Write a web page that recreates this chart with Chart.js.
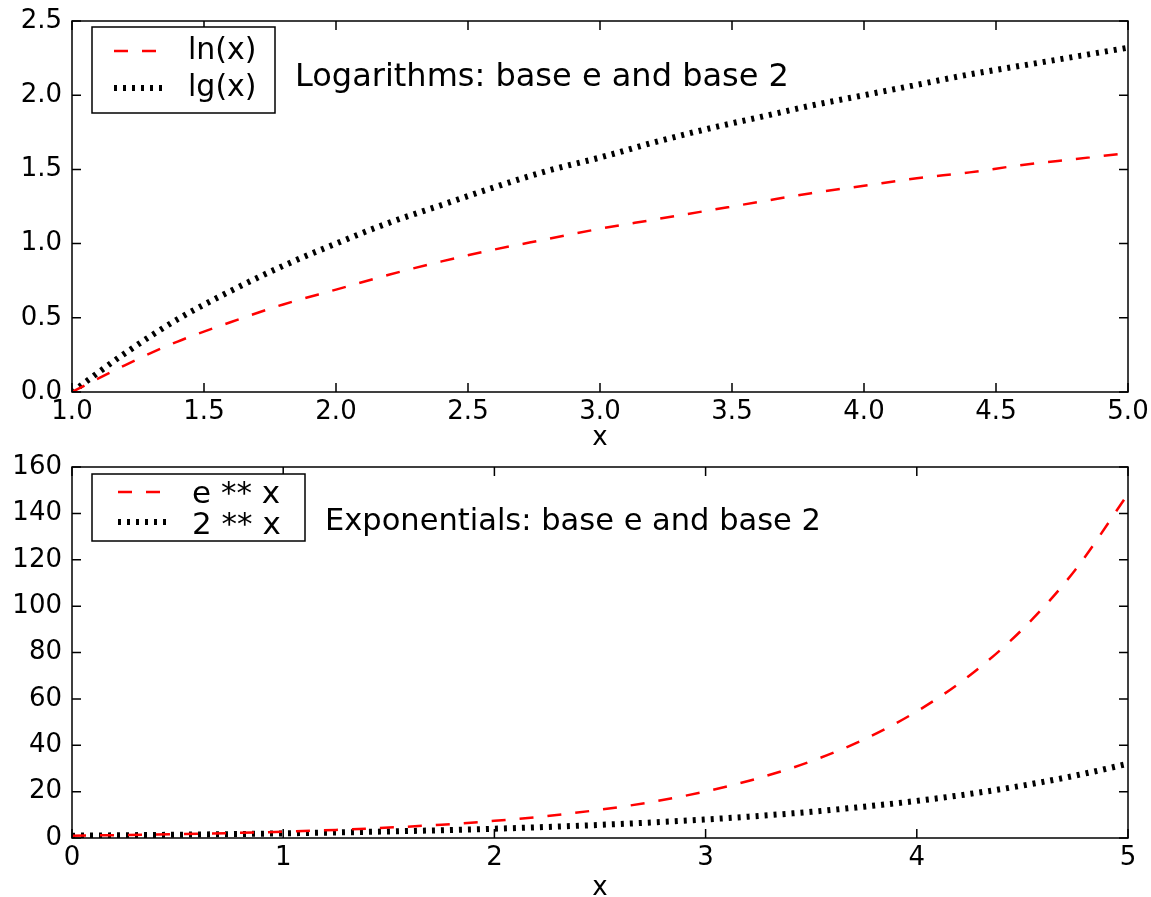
<!DOCTYPE html>
<html>
<head>
<meta charset="utf-8">
<script src="https://cdn.jsdelivr.net/npm/chart.js@4.4.1/dist/chart.umd.min.js"></script>
<style>
html, body { margin: 0; padding: 0; background: #fff; overflow: hidden; }
#wrap { position: relative; width: 1151px; height: 897px; overflow: hidden; }
canvas { position: absolute; left: 0; }
#logChart { top: 0; }
#expChart { top: 447px; }
</style>
</head>
<body>
<div id="wrap">
  <canvas id="logChart" width="1151" height="460"></canvas>
  <canvas id="expChart" width="1151" height="460"></canvas>
</div>
<script>
// values

// top panel: logarithms
const logX = [1.0, 1.2, 1.4, 1.6, 1.8, 2.0, 2.2, 2.4, 2.6, 2.8, 3.0, 3.2, 3.4, 3.6, 3.8, 4.0, 4.2, 4.4, 4.6, 4.8, 5.0]
const lnY = [0, 0.18, 0.34, 0.47, 0.59, 0.69, 0.79, 0.88, 0.96, 1.03, 1.10, 1.16, 1.22, 1.28, 1.34, 1.39, 1.44, 1.48, 1.53, 1.57, 1.61]
const lgY = [0, 0.26, 0.49, 0.68, 0.85, 1.00, 1.14, 1.26, 1.38, 1.49, 1.58, 1.68, 1.77, 1.85, 1.93, 2.00, 2.07, 2.14, 2.20, 2.26, 2.32]
const logXTicks = [1.0, 1.5, 2.0, 2.5, 3.0, 3.5, 4.0, 4.5, 5.0]
const logYTicks = [0.0, 0.5, 1.0, 1.5, 2.0, 2.5]

// bottom panel: exponentials
const expX = [0, 0.25, 0.5, 0.75, 1.0, 1.25, 1.5, 1.75, 2.0, 2.25, 2.5, 2.75, 3.0, 3.25, 3.5, 3.75, 4.0, 4.25, 4.5, 4.75, 5.0]
const eY = [1.0, 1.28, 1.65, 2.12, 2.72, 3.49, 4.48, 5.75, 7.39, 9.49, 12.2, 15.6, 20.1, 25.8, 33.1, 42.5, 54.6, 70.1, 90.0, 115.6, 148.4]
const twoY = [1.0, 1.19, 1.41, 1.68, 2.0, 2.38, 2.83, 3.36, 4.0, 4.76, 5.66, 6.73, 8.0, 9.51, 11.3, 13.5, 16.0, 19.0, 22.6, 26.9, 32.0]
const expXTicks = [0, 1, 2, 3, 4, 5]
const expYTicks = [0, 20, 40, 60, 80, 100, 120, 140, 160]

Chart.defaults.font.family = "'DejaVu Sans', sans-serif"
Chart.defaults.color = "#000"

const tickFont = { size: 26 }

// box round the plot, inward ticks, legend and the text note
const frame = {
    id: "frame",
    afterDatasetsDraw(chart, args, opts) {
        const ctx = chart.ctx
        const a = chart.chartArea
        const xs = chart.scales.x
        const ys = chart.scales.y
        ctx.save()
        ctx.strokeStyle = "#000"
        ctx.lineWidth = 1.5
        ctx.beginPath()
        xs.ticks.forEach(t => {
            const p = xs.getPixelForValue(t.value)
            ctx.moveTo(p, a.bottom); ctx.lineTo(p, a.bottom - 9)
            ctx.moveTo(p, a.top); ctx.lineTo(p, a.top + 9)
        })
        ys.ticks.forEach(t => {
            const p = ys.getPixelForValue(t.value)
            ctx.moveTo(a.left, p); ctx.lineTo(a.left + 9, p)
            ctx.moveTo(a.right, p); ctx.lineTo(a.right - 9, p)
        })
        ctx.stroke()
        ctx.strokeRect(a.left, a.top, a.right - a.left, a.bottom - a.top)

        // legend
        const L = opts.legend
        ctx.fillStyle = "#fff"
        ctx.fillRect(L.x, L.y, L.w, L.h)
        ctx.strokeRect(L.x, L.y, L.w, L.h)
        chart.data.datasets.forEach((ds, i) => {
            ctx.save()
            ctx.strokeStyle = ds.borderColor
            ctx.lineWidth = ds.borderWidth
            ctx.setLineDash(ds.borderDash)
            ctx.beginPath()
            ctx.moveTo(L.lineX, L.rows[i])
            ctx.lineTo(L.lineX + 54, L.rows[i])
            ctx.stroke()
            ctx.restore()
            ctx.fillStyle = "#000"
            ctx.font = L.font
            ctx.textBaseline = "alphabetic"
            ctx.fillText(ds.label, L.textX, L.base[i])
        })

        // note
        const n = opts.note
        ctx.font = n.font
        ctx.fillStyle = "#000"
        ctx.textBaseline = "alphabetic"
        ctx.fillText(n.text, n.x, n.y)
        ctx.restore()
    }
}

function makeChart(id, cfg) {
    return new Chart(document.getElementById(id), {
        type: "line",
        data: {
            datasets: [
                {
                    label: cfg.labels[0],
                    data: cfg.xs.map((x, i) => ({ x: x, y: cfg.ys[0][i] })),
                    borderColor: "#ff0000",
                    borderWidth: 2.5,
                    borderDash: [14, 14],
                    pointRadius: 0,
                    cubicInterpolationMode: "monotone",
                    fill: false
                },
                {
                    label: cfg.labels[1],
                    data: cfg.xs.map((x, i) => ({ x: x, y: cfg.ys[1][i] })),
                    borderColor: "#000",
                    borderWidth: 6,
                    borderDash: [3, 6],
                    pointRadius: 0,
                    cubicInterpolationMode: "monotone",
                    fill: false
                }
            ]
        },
        options: {
            responsive: false,
            animation: false,
            maintainAspectRatio: false,
            layout: { padding: { top: cfg.padTop, right: 23, left: 0, bottom: 0 } },
            plugins: {
                legend: { display: false },
                tooltip: { enabled: false },
                frame: { legend: cfg.legend, note: cfg.note }
            },
            scales: {
                x: {
                    type: "linear",
                    min: cfg.xMin,
                    max: cfg.xMax,
                    afterBuildTicks: s => { s.ticks = cfg.xTicks.map(v => ({ value: v })) },
                    afterFit: s => { s.height = cfg.xHeight; s.paddingLeft = 0; s.paddingRight = 0 },
                    ticks: { font: tickFont, color: "#000", padding: 5, maxRotation: 0, autoSkip: false, callback: cfg.xFmt },
                    grid: { display: false, drawTicks: false },
                    border: { display: false },
                    title: { display: true, text: "x", font: tickFont, color: "#000", padding: { top: 0, bottom: cfg.titlePad } }
                },
                y: {
                    type: "linear",
                    min: cfg.yMin,
                    max: cfg.yMax,
                    afterBuildTicks: s => { s.ticks = cfg.yTicks.map(v => ({ value: v })) },
                    afterFit: s => { s.width = 72; s.paddingTop = 0; s.paddingBottom = 0 },
                    ticks: { font: tickFont, color: "#000", padding: 10, autoSkip: false, callback: cfg.yFmt },
                    grid: { display: false, drawTicks: false },
                    border: { display: false }
                }
            }
        },
        plugins: [frame]
    })
}

makeChart("logChart", {
    xs: logX,
    ys: [lnY, lgY],
    labels: ["ln(x)", "lg(x)"],
    xMin: 1, xMax: 5, yMin: 0, yMax: 2.5,
    xTicks: logXTicks, yTicks: logYTicks,
    xFmt: v => v.toFixed(1), yFmt: v => v.toFixed(1),
    padTop: 21, xHeight: 68, titlePad: 6,
    legend: { x: 92, y: 27, w: 183, h: 86, lineX: 114, textX: 188, rows: [51, 88], base: [59, 96], font: "30px 'DejaVu Sans'" },
    note: { text: "Logarithms: base e and base 2", x: 295, y: 86, font: "32px 'DejaVu Sans'" }
})

makeChart("expChart", {
    xs: expX,
    ys: [eY, twoY],
    labels: ["e ** x", "2 ** x"],
    xMin: 0, xMax: 5, yMin: 0, yMax: 160,
    xTicks: expXTicks, yTicks: expYTicks,
    xFmt: v => String(v), yFmt: v => String(v),
    padTop: 20, xHeight: 69, titlePad: 3,
    legend: { x: 92, y: 27, w: 213, h: 67, lineX: 118, textX: 192, rows: [45, 75], base: [56, 87], font: "31px 'DejaVu Sans'" },
    note: { text: "Exponentials: base e and base 2", x: 325, y: 83, font: "30.5px 'DejaVu Sans'" }
})
</script>
</body>
</html>
